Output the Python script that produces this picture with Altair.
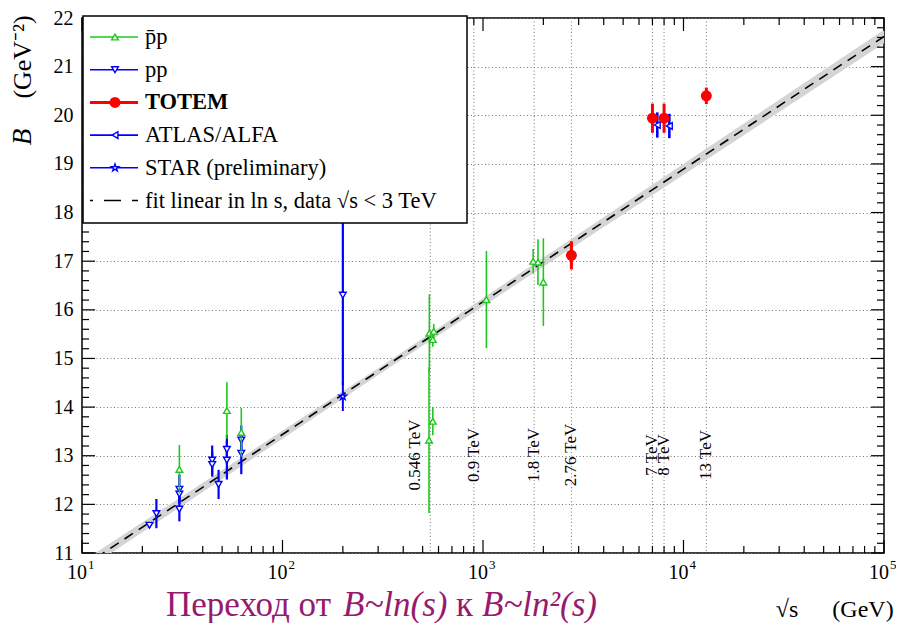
import altair as alt
import pandas as pd

SERIF = "Liberation Serif"

# ---------------- data ----------------
# p-bar p (green, open up-triangles)
ppbar_e = [30.6, 52.8, 62.3, 540, 568, 562, 538, 562, 1040, 1780, 1880, 2000]
ppbar_b = [12.72, 13.93, 13.48, 15.52, 15.56, 15.39, 13.32, 13.71, 16.21, 17.00, 16.98, 16.57]
ppbar_err = [0.50, 0.58, 0.50, 0.80, 0.15, 0.15, 1.50, 0.29, 1.00, 0.25, 0.47, 0.90]

# pp (blue, open down-triangles)
pp_e = [21.7, 23.5, 30.6, 30.6, 30.6, 44.6, 44.6, 48.0, 52.8, 52.8, 62.3, 62.3, 200]
pp_b = [11.57, 11.81, 12.31, 12.21, 11.90, 12.91, 12.82, 12.41, 13.13, 12.91, 13.32, 13.05, 16.30]
pp_err = [0.05, 0.30, 0.30, 0.15, 0.25, 0.30, 0.25, 0.30, 0.30, 0.40, 0.30, 0.43, 1.85]

# TOTEM (red, filled circles)
totem_e = [2760, 7000, 8000, 13000]
totem_b = [17.12, 19.94, 19.94, 20.40]
totem_err = [0.29, 0.30, 0.30, 0.17]

# ATLAS/ALFA (blue, open left-triangles)
atlas_e = [7400, 8500]
atlas_b = [19.80, 19.78]
atlas_err = [0.26, 0.25]

# STAR preliminary (blue, open star)
star_e = [200]
star_b = [14.22]
star_err = [0.30]

# fit linear in ln s and its uncertainty band
fit_e = [10, 100000]
fit_b = [10.71, 21.62]
band_e = [10, 300, 100000]
band_lo = [10.60, 14.66, 21.48]
band_hi = [10.82, 14.80, 21.76]

# energy markers
grid_e = [546, 900, 1800, 2760, 7000, 8000, 13000]
grid_labels = ["0.546 TeV", "0.9 TeV", "1.8 TeV", "2.76 TeV", "7 TeV", "8 TeV", "13 TeV"]
label_anchor_e = [458, 900, 1800, 2760, 7000, 8000, 13000]

# axes
decades = [10, 100, 1000, 10000, 100000]
decade_exp = ["1", "2", "3", "4", "5"]
minor_x = [k * 10 ** d for d in range(1, 5) for k in range(2, 10)]
major_y = list(range(11, 23))
minor_y = [round(11 + 0.2 * i, 1) for i in range(56) if i % 5]

legend_labels = ["p\u0304p", "pp", "TOTEM", "ATLAS/ALFA", "STAR (preliminary)",
                 "fit linear in ln s, data \u221as < 3 TeV"]

# ---------------- chart ----------------
W, H = 802, 535
GREEN, BLUE, RED = "#1ec81e", "#0000ff", "#ff0000"
STAR_PATH = ("M0,-1L0.2245,-0.309L0.951,-0.309L0.363,0.118L0.588,0.809L0,0.382"
             "L-0.588,0.809L-0.363,0.118L-0.951,-0.309L-0.2245,-0.309Z")

xs = alt.Scale(type="log", domain=[10, 100000], nice=False)
ys = alt.Scale(domain=[11, 22], nice=False, zero=False)
yaxis = alt.Axis(values=major_y, grid=True, gridDash=[1, 2.5], gridColor="#777777",
                 gridWidth=1, ticks=False, domain=False, labelFont=SERIF,
                 labelFontSize=20, labelColor="black", labelPadding=9,
                 labelFlush=False, labelOverlap=False, title=None)


def X(f="e"):
    return alt.X(f"{f}:Q", scale=xs, axis=None)


def Y(f="b"):
    return alt.Y(f"{f}:Q", scale=ys, axis=yaxis)


layers = []

# vertical dotted energy lines
layers.append(alt.Chart(pd.DataFrame({"e": grid_e})).mark_rule(
    color="#777777", strokeDash=[1, 2.5], strokeWidth=1).encode(
    x=X(), y=alt.value(0), y2=alt.value(H)))

# band and fit
layers.append(alt.Chart(pd.DataFrame({"e": band_e, "lo": band_lo, "hi": band_hi})).mark_area(
    color="#d4d4d4", clip=True).encode(x=X(), y=Y("lo"), y2=alt.Y2("hi:Q")))
layers.append(alt.Chart(pd.DataFrame({"e": fit_e, "b": fit_b})).mark_line(
    color="black", strokeDash=[10, 7], strokeWidth=1.6, clip=True).encode(x=X(), y=Y()))


def series(e, b, err, color, shape, open_, size, ew):
    base = alt.Chart(pd.DataFrame({"e": e, "b": b, "err": err})).transform_calculate(
        lo="datum.b - datum.err", hi="datum.b + datum.err")
    bars = base.mark_rule(color=color, strokeWidth=ew, clip=True).encode(
        x=X(), y=Y("lo"), y2=alt.Y2("hi:Q"))
    if open_:
        pts = base.mark_point(shape=shape, filled=True, fill="white", fillOpacity=1,
                              stroke=color, strokeWidth=1.4, size=size, opacity=1,
                              clip=True).encode(x=X(), y=Y())
    else:
        pts = base.mark_point(shape=shape, filled=True, color=color, size=size,
                              opacity=1, clip=True).encode(x=X(), y=Y())
    return [bars, pts]


layers += series(pp_e, pp_b, pp_err, BLUE, "triangle-down", True, 45, 2.2)
layers += series(ppbar_e, ppbar_b, ppbar_err, GREEN, "triangle-up", True, 45, 1.6)
layers += series(star_e, star_b, star_err, BLUE, STAR_PATH, True, 60, 2.0)
layers += series(atlas_e, atlas_b, atlas_err, BLUE, "triangle-left", True, 45, 2.6)
layers += series(totem_e, totem_b, totem_err, RED, "circle", False, 120, 3.0)

# energy labels
layers.append(alt.Chart(pd.DataFrame({"e": label_anchor_e, "t": grid_labels})).mark_text(
    angle=270, font=SERIF, fontSize=17, align="center", baseline="middle",
    color="black").encode(x=X(), y=alt.value(437), text="t:N"))

# inward ticks
tick_style = dict(color="black", strokeWidth=1.2)
dmx = pd.DataFrame({"e": decades})
dnx = pd.DataFrame({"e": minor_x})
dmy = pd.DataFrame({"b": major_y})
dny = pd.DataFrame({"b": minor_y})
for d, L in ((dmx, 13), (dnx, 7)):
    layers.append(alt.Chart(d).mark_rule(**tick_style).encode(
        x=X(), y=alt.value(H - L), y2=alt.value(H)))
    layers.append(alt.Chart(d).mark_rule(**tick_style).encode(
        x=X(), y=alt.value(0), y2=alt.value(L)))
for d, L in ((dmy, 13), (dny, 7)):
    layers.append(alt.Chart(d).mark_rule(**tick_style).encode(
        y=Y(), x=alt.value(0), x2=alt.value(L)))
    layers.append(alt.Chart(d).mark_rule(**tick_style).encode(
        y=Y(), x=alt.value(W - L), x2=alt.value(W)))

# decade labels 10^n
dl = pd.DataFrame({"e": decades, "t": ["10"] * 5, "p": decade_exp})
layers.append(alt.Chart(dl).mark_text(font=SERIF, fontSize=20, align="center",
                                      baseline="middle", dx=-5, color="black").encode(
    x=X(), y=alt.value(H + 20), text="t:N"))
layers.append(alt.Chart(dl).mark_text(font=SERIF, fontSize=13, align="left",
                                      baseline="middle", dx=6, color="black").encode(
    x=X(), y=alt.value(H + 12), text="p:N"))

# legend (drawn on top of the plot like the ROOT TLegend)
one = pd.DataFrame({"a": [0]})
layers.append(alt.Chart(one).mark_rect(fill="white", stroke="black", strokeWidth=1.5).encode(
    x=alt.value(1), x2=alt.value(385), y=alt.value(-2), y2=alt.value(205)))
leg_style = [
    (GREEN, "triangle-up", True, 45, 1.6, "normal"),
    (BLUE, "triangle-down", True, 45, 1.6, "normal"),
    (RED, "circle", False, 120, 3.0, "bold"),
    (BLUE, "triangle-left", True, 45, 1.6, "normal"),
    (BLUE, STAR_PATH, True, 60, 1.6, "normal"),
]
for i, lab in enumerate(legend_labels):
    ly = 19 + 32.7 * i
    dfl = pd.DataFrame({"t": [lab]})
    if i < 5:
        col, shp, op, sz, lw, fw = leg_style[i]
        layers.append(alt.Chart(dfl).mark_rule(color=col, strokeWidth=lw).encode(
            x=alt.value(8), x2=alt.value(56), y=alt.value(ly)))
        if op:
            layers.append(alt.Chart(dfl).mark_point(
                shape=shp, filled=True, fill="white", fillOpacity=1, stroke=col,
                strokeWidth=1.4, size=sz, opacity=1).encode(x=alt.value(33), y=alt.value(ly)))
        else:
            layers.append(alt.Chart(dfl).mark_point(
                shape=shp, filled=True, color=col, size=sz, opacity=1).encode(
                x=alt.value(33), y=alt.value(ly)))
    else:
        fw = "normal"
        layers.append(alt.Chart(dfl).mark_rule(color="black", strokeWidth=1.6,
                                               strokeDash=[17, 11], strokeDashOffset=14).encode(
            x=alt.value(8), x2=alt.value(56), y=alt.value(ly)))
    layers.append(alt.Chart(dfl).mark_text(align="left", baseline="middle", font=SERIF,
                                           fontSize=22.5, fontWeight=fw, color="black").encode(
        x=alt.value(63), y=alt.value(ly), text="t:N"))

# axis titles
layers.append(alt.Chart(pd.DataFrame({"t": ["B"]})).mark_text(
    angle=270, font=SERIF, fontSize=27, fontStyle="italic", align="center",
    baseline="middle", color="black").encode(x=alt.value(-59), y=alt.value(119), text="t:N"))
layers.append(alt.Chart(pd.DataFrame({"t": ["(GeV\u207b\u00b2)"]})).mark_text(
    angle=270, font=SERIF, fontSize=26, align="center", baseline="middle",
    color="black").encode(x=alt.value(-59), y=alt.value(39), text="t:N"))
layers.append(alt.Chart(pd.DataFrame({"t": ["\u221as"]})).mark_text(
    font=SERIF, fontSize=24, align="center", baseline="middle", color="black").encode(
    x=alt.value(705), y=alt.value(H + 57), text="t:N"))
layers.append(alt.Chart(pd.DataFrame({"t": ["(GeV)"]})).mark_text(
    font=SERIF, fontSize=24, align="center", baseline="middle", color="black").encode(
    x=alt.value(781), y=alt.value(H + 57), text="t:N"))

# slide caption
PURPLE = "#961a6e"
caption = [("Переход от", "normal", 84), ("B~ln(s)", "italic", 261),
           ("к", "normal", 374), ("B~ln\u00b2(s)", "italic", 400)]
for txt, st, px in caption:
    layers.append(alt.Chart(pd.DataFrame({"t": [txt]})).mark_text(
        font=SERIF, fontSize=35, fontStyle=st, align="left", baseline="alphabetic",
        color=PURPLE).encode(x=alt.value(px), y=alt.value(H + 63), text="t:N"))

chart = alt.layer(*layers).properties(
    width=W, height=H,
    padding={"left": 74, "top": 10, "right": 12, "bottom": 70},
    autosize=alt.AutoSizeParams(type="none"),
    background="white",
).configure_view(stroke="black", strokeWidth=1.5)

chart.save("out.html", embed_options={"renderer": "svg", "actions": False})
